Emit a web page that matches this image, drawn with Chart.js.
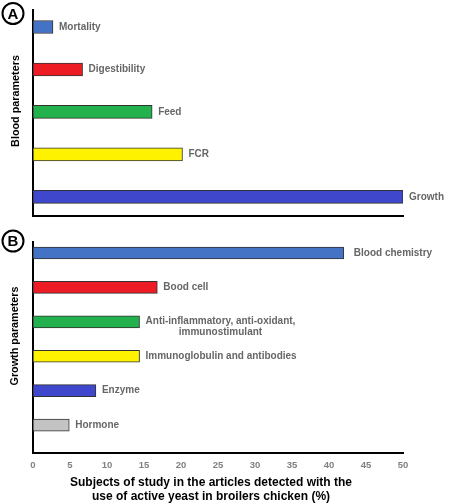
<!DOCTYPE html>
<html>
<head>
<meta charset="utf-8">
<script src="https://cdn.jsdelivr.net/npm/chart.js@4.4.0/dist/chart.umd.min.js"></script>
<style>
  html, body { margin: 0; padding: 0; background: #fff; }
  #wrap { position: relative; width: 475px; height: 503px; }
  .panel { position: absolute; left: 0; width: 475px; }
</style>
</head>
<body>
<div id="wrap">
  <div class="panel" style="top:0;height:225px"><canvas id="chartA"></canvas></div>
  <div class="panel" style="top:225px;height:278px"><canvas id="chartB"></canvas></div>
</div>
<script>
// panel A
const categoriesA = ["Mortality", "Digestibility", "Feed", "FCR", "Growth"];
const valuesA = [2.7, 6.7, 16.1, 20.2, 50];
const colorsA = ["#4472c4", "#ed1c24", "#22b14c", "#fff200", "#3f48cc"];

// panel B
const categoriesB = [
  "Blood chemistry",
  "Bood cell",
  ["Anti-inflammatory, anti-oxidant,", "immunostimulant"],
  "Immunoglobulin and antibodies",
  "Enzyme",
  "Hormone",
];
const valuesB = [42, 16.8, 14.4, 14.4, 8.5, 4.9];
const colorsB = ["#4472c4", "#ed1c24", "#22b14c", "#fff200", "#3f48cc", "#c3c3c3"];

const xTicks = [0, 5, 10, 15, 20, 25, 30, 35, 40, 45, 50];
const xTitle = [
  "Subjects of study in the articles detected with the",
  "use of active yeast in broilers chicken (%)",
];

const FONT = "'Liberation Sans', Arial, sans-serif";

// text next to the end of every bar
const barLabels = {
  id: "barLabels",
  afterDatasetsDraw(chart, args, opts) {
    const ctx = chart.ctx;
    const meta = chart.getDatasetMeta(0);
    ctx.save();
    ctx.font = "bold 10px " + FONT;
    ctx.fillStyle = "#666";
    ctx.textBaseline = "middle";
    meta.data.forEach((bar, i) => {
      const lab = opts.labels[i];
      const x0 = bar.x + (i == 0 && opts.firstGap ? opts.firstGap : 6);
      if (Array.isArray(lab)) {
        const w = Math.max(...lab.map((l) => ctx.measureText(l).width));
        ctx.textAlign = "center";
        lab.forEach((l, j) => ctx.fillText(l, x0 + w / 2, bar.y - 1 + j * 11));
      } else {
        ctx.textAlign = "left";
        ctx.fillText(lab, x0, bar.y);
      }
    });
    ctx.restore();
  },
};

// circled panel letter, rotated y title, optional x title
const panelDecor = {
  id: "panelDecor",
  afterDraw(chart, args, opts) {
    const ctx = chart.ctx;
    ctx.save();
    ctx.beginPath();
    ctx.arc(opts.circle[0], opts.circle[1], 10.5, 0, Math.PI * 2);
    ctx.lineWidth = 2;
    ctx.strokeStyle = "#000";
    ctx.stroke();
    ctx.fillStyle = "#000";
    ctx.font = "bold 15px " + FONT;
    ctx.textAlign = "center";
    ctx.textBaseline = "middle";
    ctx.fillText(opts.letter, opts.circle[0], opts.circle[1] + 1);

    if (opts.xTitle) {
      ctx.font = "bold 12px " + FONT;
      opts.xTitle.forEach((l, j) => ctx.fillText(l, opts.xTitlePos[0], opts.xTitlePos[1] + j * 14));
    }

    ctx.translate(opts.title[0], opts.title[1]);
    ctx.rotate(-Math.PI / 2);
    ctx.font = "bold 10.8px " + FONT;
    ctx.fillText(opts.text, 0, 0);
    ctx.restore();
  },
};

function makeData(values, colors) {
  return {
    datasets: [
      {
        data: values.map((v, i) => ({ x: v, y: i })),
        backgroundColor: colors,
        borderColor: "#333",
        borderWidth: 1,
        borderSkipped: false,
      },
    ],
  };
}

new Chart(document.getElementById("chartA"), {
  type: "bar",
  data: makeData(valuesA, colorsA),
  plugins: [barLabels, panelDecor],
  options: {
    indexAxis: "y",
    responsive: true,
    maintainAspectRatio: false,
    animation: false,
    barThickness: 13,
    layout: { padding: { left: 33, right: 72, top: 10, bottom: 9 } },
    plugins: {
      legend: { display: false },
      tooltip: { enabled: false },
      barLabels: { labels: categoriesA },
      panelDecor: { letter: "A", circle: [13, 13.5], text: "Blood parameters", title: [16, 101] },
    },
    scales: {
      x: {
        type: "linear",
        min: 0,
        max: 50,
        grid: { display: false, drawTicks: false },
        ticks: { display: false },
        border: { display: true, color: "#000", width: 2 },
        afterFit: (s) => { s.height = 0; },
      },
      y: {
        type: "linear",
        reverse: true,
        offset: false,
        min: -0.4,
        max: 4.45,
        grid: { display: false, drawTicks: false },
        ticks: { display: false },
        border: { display: true, color: "#000", width: 2 },
        afterFit: (s) => { s.width = 0; },
      },
    },
  },
});

new Chart(document.getElementById("chartB"), {
  type: "bar",
  data: makeData(valuesB, colorsB),
  plugins: [barLabels, panelDecor],
  options: {
    indexAxis: "y",
    responsive: true,
    maintainAspectRatio: false,
    animation: false,
    barThickness: 12,
    layout: { padding: { left: 33, right: 72, top: 17, bottom: 0 } },
    plugins: {
      legend: { display: false },
      tooltip: { enabled: false },
      barLabels: { labels: categoriesB, firstGap: 10 },
      panelDecor: {
        letter: "B", circle: [13, 16], text: "Growth parameters", title: [15, 111],
        xTitle: xTitle, xTitlePos: [211, 258],
      },
    },
    scales: {
      x: {
        type: "linear",
        min: 0,
        max: 50,
        afterBuildTicks: (s) => { s.ticks = xTicks.map((v) => ({ value: v })); },
        grid: { display: false, drawTicks: false },
        ticks: { padding: 7, color: "#808080", font: { family: FONT, size: 9.5, weight: "bold" } },
        border: { display: true, color: "#000", width: 2 },
        afterFit: (s) => { s.height = 50; },
      },
      y: {
        type: "linear",
        reverse: true,
        offset: false,
        min: -0.32,
        max: 5.81,
        grid: { display: false, drawTicks: false },
        ticks: { display: false },
        border: { display: true, color: "#000", width: 2 },
        afterFit: (s) => { s.width = 0; },
      },
    },
  },
});
</script>
</body>
</html>
